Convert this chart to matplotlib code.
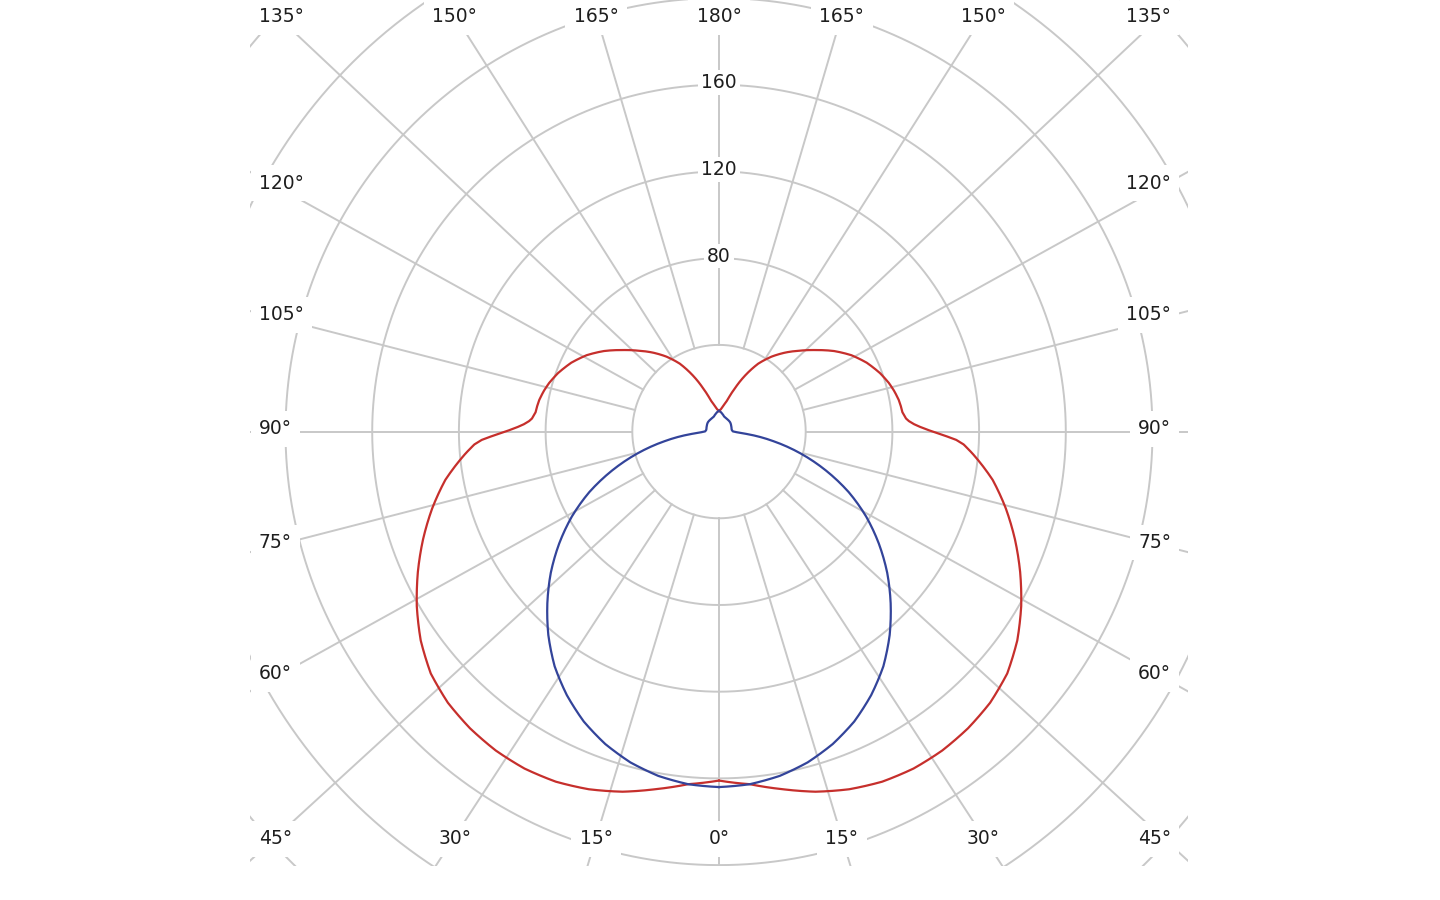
import numpy as np
import matplotlib
matplotlib.use("Agg")
import matplotlib.pyplot as plt
from matplotlib.patches import Rectangle

# luminous intensity, left and right halves are symmetric
gamma_red = [0, 5, 10, 15, 20, 25, 30, 35, 40, 45, 50, 55, 60, 65, 70, 75, 80, 83, 85,
             87, 88, 89, 90, 91, 92, 93, 94, 96, 98, 100, 103, 106, 110, 115, 120, 125,
             130, 135, 140, 145, 150, 155, 160, 165, 170, 175, 180]
red_cd = [161, 163.3, 167.5, 172, 175.6, 178.2, 179.5, 179.6, 178.7, 176.9, 173.6,
          168, 161, 153.3, 145.3, 137, 128.2, 121.8, 117.5, 113, 109.5, 104, 98.5,
          94, 90.5, 88, 86.5, 85.1, 84.7, 84.2, 83, 81.5, 79, 75.2, 70.5, 64.8, 58.5,
          52.8, 47.6, 42.2, 36.2, 28.6, 21, 15, 12.2, 10.4, 9.5]

gamma_blue = [0, 5, 10, 15, 20, 25, 30, 35, 40, 45, 50, 55, 60, 65, 70, 75, 80, 85,
              87, 90, 95, 100, 110, 120, 130, 140, 150, 160, 165, 170, 175, 180]
blue_cd = [164, 163.3, 161.3, 158.0, 153.4, 147.6, 140.4, 132.2, 122.5, 112, 101.3,
           90, 78.4, 66, 52.5, 39, 25.5, 13, 9, 6.5, 6, 5.9, 6.1, 6.4, 6.7, 6.8, 6.9,
           7.2, 7.8, 8.4, 9.1, 9.6]

ring_values = [40, 80, 120, 160, 200, 240, 280]
ring_labels = [80, 120, 160]
spoke_angles = list(range(0, 181, 15))

W, H = 1440, 900
cx, cy = 719, 431.6          # pole position in pixels (from top)
px_per_unit = 86.7 / 40
rmax = 300
grid_color = '#c8c8c8'
text_color = '#1e1e1e'

plt.rcParams['font.family'] = ['DejaVu Sans']

fig = plt.figure(figsize=(W / 100, H / 100), dpi=100)
size = 2 * rmax * px_per_unit
ax = fig.add_axes([(cx - size / 2) / W, (H - cy - size / 2) / H, size / W, size / H],
                  projection='polar')
ax.set_theta_zero_location('S')
ax.set_theta_direction(1)
ax.set_ylim(0, rmax)
ax.axis('off')

# chart area is a rectangle, everything outside is cut
clip = Rectangle((250 / W, (H - 866) / H), (1188 - 250) / W, 866 / H,
                 transform=fig.transFigure, facecolor='none', edgecolor='none')

theta_full = np.linspace(0, 2 * np.pi, 1441)
for v in ring_values:
    ln, = ax.plot(theta_full, np.full_like(theta_full, v), color=grid_color, lw=1.4, zorder=1)
    ln.set_clip_path(clip)


def label_anchor(a, s):
    """pixel offset (right, up) of the label for angle a on side s (+1 right, -1 left)"""
    if a == 0:
        return 0.0, -405.4
    if a == 180:
        return 0.0, 416.6
    if 45 < a < 135:
        return s * 443.0, 425 * np.tan(np.radians(a - 90))
    v = a if a <= 45 else 180 - a
    up = -405.4 if a <= 45 else 416.6
    return s * min(458 * np.tan(np.radians(v)), 443.0), up


for a in spoke_angles:
    sides = [1] if a in (0, 180) else [1, -1]
    for s in sides:
        dx, dy = label_anchor(a, s)
        th = np.arctan2(dx, -dy)
        ln, = ax.plot([th, th], [40, rmax], color=grid_color, lw=1.4, zorder=1)
        ln.set_clip_path(clip)

        box = dict(boxstyle='square,pad=0.45', fc='white', ec='none')
        if 45 <= a <= 135:
            # side columns: aligned to the frame edge
            yt = cy - dy if a in (45, 135) else cy - dy - 5
            xt, ha = (259, 'left') if s < 0 else (1171, 'right')
        else:
            xt, yt, ha = cx + dx, cy - dy, 'center'
        fig.text(xt / W, 1 - (yt + 2) / H, f"{a}°", ha=ha, va='center', fontsize=13.5,
                 color=text_color, zorder=3, bbox=box)

for v in ring_labels:
    ax.text(np.pi, v + 1, str(v), ha='center', va='center', fontsize=13.5, color=text_color,
            zorder=3, bbox=dict(boxstyle='square,pad=0.15', fc='white', ec='none'))

# two C-planes, each drawn on both halves of the diagram
for s in (1, -1):
    for gam, cd, col in ((gamma_red, red_cd, '#c62f2c'), (gamma_blue, blue_cd, '#33449a')):
        ln, = ax.plot(s * np.radians(gam), cd, color=col, lw=1.6, zorder=4)
        # let the polar transform bend each segment instead of drawing chords
        ln.get_path()._interpolation_steps = 12

fig.savefig("out.png", dpi=100, facecolor='white')
